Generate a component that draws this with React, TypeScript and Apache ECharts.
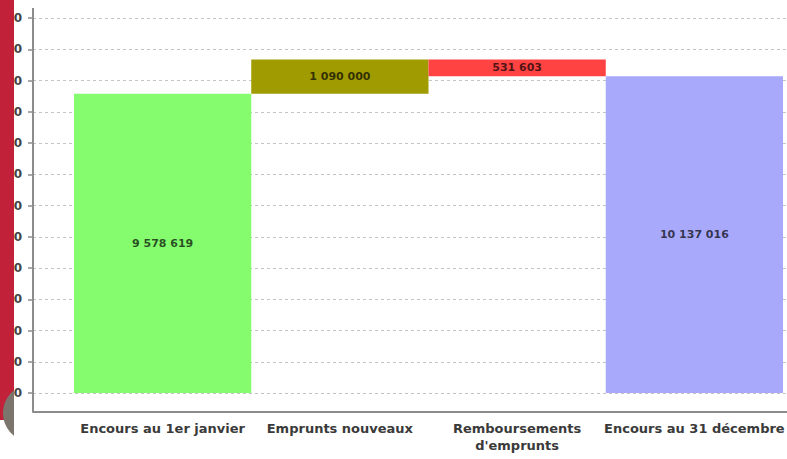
import React, { useEffect, useRef } from 'react';
import * as echarts from 'echarts';

const categories = [
  'Encours au 1er janvier',
  'Emprunts nouveaux',
  "Remboursements\nd'emprunts",
  'Encours au 31 décembre',
];
const amounts = [9578619, 1090000, -531603, 10137016];
const isTotal = [true, false, false, true];
const barColors = ['#84fc6e', '#a09b00', '#ff4242', '#a9a9fb'];
const yMin = 0;
const yMax = 12000000;
const yInterval = 1000000;

const fmt = (n: number) =>
  Math.round(Math.abs(n))
    .toString()
    .replace(/\B(?=(\d{3})+(?!\d))/g, ' ');

function buildWaterfall() {
  const bases: number[] = [];
  const heights: number[] = [];
  let running = 0;
  amounts.forEach((a, i) => {
    if (isTotal[i]) {
      bases.push(0);
      heights.push(a);
      running = a;
    } else if (a >= 0) {
      bases.push(running);
      heights.push(a);
      running += a;
    } else {
      running += a;
      bases.push(running);
      heights.push(-a);
    }
  });
  return { bases, heights };
}

function circleClipPoints(cx: number, cy: number, r: number, maxX: number) {
  const pts: number[][] = [];
  for (let d = 0; d <= 360; d += 3) {
    const t = (d * Math.PI) / 180;
    const x = cx + r * Math.cos(t);
    const y = cy + r * Math.sin(t);
    pts.push([Math.min(x, maxX), y]);
  }
  return pts;
}

export default function App() {
  const ref = useRef<HTMLDivElement>(null);
  useEffect(() => {
    if (!ref.current) return;
    const chart = echarts.init(ref.current, undefined, { renderer: 'svg' });
    const { bases, heights } = buildWaterfall();
    const font = 'DejaVu Sans, Verdana, sans-serif';
    chart.setOption({
      animation: false,
      backgroundColor: '#ffffff',
      grid: [
        { left: 74, right: 4, top: 18, bottom: 66, containLabel: false, outerBoundsMode: 'none' },
        { left: 33, right: 0, top: 18, bottom: 66, containLabel: false, outerBoundsMode: 'none' },
      ],
      xAxis: [
        {
          gridIndex: 0,
          type: 'category',
          data: categories,
          axisLine: { show: false },
          axisTick: { show: false },
          splitLine: { show: false },
          axisLabel: {
            interval: 0,
            margin: 27,
            fontSize: 13,
            fontWeight: 'bold',
            lineHeight: 17,
            color: '#3a3a3a',
            fontFamily: font,
          },
        },
        {
          gridIndex: 1,
          type: 'value',
          min: 0,
          max: 1,
          offset: 19,
          axisLine: { show: true, onZero: false, lineStyle: { color: '#8c8c8c', width: 2 } },
          axisTick: { show: false },
          axisLabel: { show: false },
          splitLine: { show: false },
        },
      ],
      yAxis: [
        {
          gridIndex: 0,
          type: 'value',
          min: yMin,
          max: yMax,
          interval: yInterval,
          show: false,
          splitLine: { show: false },
        },
        {
          gridIndex: 1,
          type: 'value',
          min: yMin,
          max: yMax,
          interval: yInterval,
          axisLine: { show: false, onZero: false },
          axisTick: { show: true, length: 5, lineStyle: { color: '#8c8c8c', width: 1.5 } },
          axisLabel: {
            margin: 11,
            fontSize: 12,
            fontWeight: 'bold',
            color: '#444444',
            fontFamily: font,
            formatter: (v: number) => fmt(v),
          },
          splitLine: {
            show: true,
            lineStyle: { color: '#c4c4c4', type: [3, 3], width: 1 },
          },
        },
      ],
      series: [
        {
          type: 'bar',
          xAxisIndex: 0,
          yAxisIndex: 0,
          stack: 'wf',
          barCategoryGap: '0%',
          itemStyle: { color: 'transparent' },
          emphasis: { disabled: true },
          data: bases,
        },
        {
          type: 'bar',
          xAxisIndex: 0,
          yAxisIndex: 0,
          stack: 'wf',
          barCategoryGap: '0%',
          data: heights.map((h, i) => ({
            value: h,
            itemStyle: { color: barColors[i] },
          })),
          label: {
            show: true,
            position: 'inside',
            fontSize: 11,
            fontWeight: 'bold',
            fontFamily: font,
            color: 'rgba(0,0,0,0.7)',
            formatter: (p: any) => fmt(amounts[p.dataIndex]),
          },
        },
      ],
      graphic: [
        {
          type: 'line',
          z: 50,
          shape: { x1: 33, y1: 8, x2: 33, y2: 412 },
          style: { stroke: '#8c8c8c', lineWidth: 2 },
        },
        {
          type: 'rect',
          z: 100,
          shape: { x: 0, y: 0, width: 14, height: 420 },
          style: { fill: '#c2213a' },
        },
        {
          type: 'polygon',
          z: 101,
          shape: { points: circleClipPoints(32, 413, 29, 14) },
          style: { fill: '#7b756d' },
        },
      ],
    });
    return () => chart.dispose();
  }, []);
  return (
    <div
      ref={ref}
      style={{ position: 'fixed', left: 0, top: 0, width: 787, height: 459 }}
    />
  );
}
